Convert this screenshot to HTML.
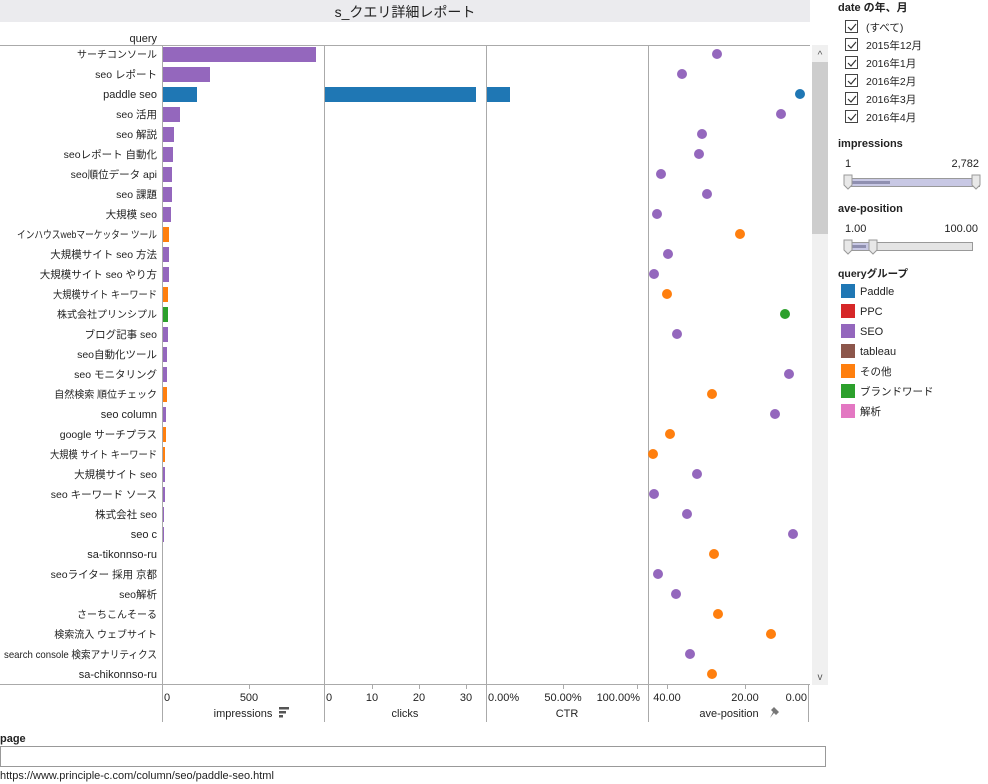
<!DOCTYPE html>
<html><head><meta charset="utf-8"><style>
body{margin:0;width:988px;height:784px;background:#fff;overflow:hidden;font-family:"Liberation Sans","Noto Sans CJK JP",sans-serif;}
svg text{font-family:"Liberation Sans","Noto Sans CJK JP",sans-serif;}
</style></head><body>
<svg width="988" height="784" xmlns="http://www.w3.org/2000/svg" style="position:absolute;left:0;top:0">
<rect x="0" y="0" width="810" height="22" fill="#ebebee"/>
<text x="405" y="17" font-size="14" text-anchor="middle" fill="#222">s_クエリ詳細レポート</text>
<text x="157" y="42" font-size="11" text-anchor="end" fill="#222">query</text>
<line x1="0" y1="45.5" x2="810" y2="45.5" stroke="#aaa"/>
<line x1="0" y1="684.5" x2="810" y2="684.5" stroke="#aaa"/>
<g stroke="#aaa">
<line x1="162.5" y1="45" x2="162.5" y2="722"/>
<line x1="324.5" y1="45" x2="324.5" y2="722"/>
<line x1="486.5" y1="45" x2="486.5" y2="722"/>
<line x1="648.5" y1="45" x2="648.5" y2="722"/>
<line x1="808.5" y1="684" x2="808.5" y2="722"/>
<line x1="249.5" y1="684" x2="249.5" y2="689"/>
<line x1="372.5" y1="684" x2="372.5" y2="689"/>
<line x1="419.5" y1="684" x2="419.5" y2="689"/>
<line x1="466.5" y1="684" x2="466.5" y2="689"/>
<line x1="563.5" y1="684" x2="563.5" y2="689"/>
<line x1="637.5" y1="684" x2="637.5" y2="689"/>
<line x1="667.5" y1="684" x2="667.5" y2="689"/>
<line x1="745.5" y1="684" x2="745.5" y2="689"/>
</g>
<g font-size="10.5" fill="#222" text-anchor="end">
<text x="157" y="58" font-size="10">サーチコンソール</text>
<text x="157" y="78">seo レポート</text>
<text x="157" y="98" font-size="11">paddle seo</text>
<text x="157" y="118">seo 活用</text>
<text x="157" y="138">seo 解説</text>
<text x="157" y="158">seoレポート 自動化</text>
<text x="157" y="178">seo順位データ api</text>
<text x="157" y="198">seo 課題</text>
<text x="157" y="218">大規模 seo</text>
<text x="157" y="238" textLength="140" lengthAdjust="spacingAndGlyphs">インハウスwebマーケッター ツール</text>
<text x="157" y="258">大規模サイト seo 方法</text>
<text x="157" y="278">大規模サイト seo やり方</text>
<text x="157" y="298" textLength="104" lengthAdjust="spacingAndGlyphs">大規模サイト キーワード</text>
<text x="157" y="318" font-size="10">株式会社プリンシプル</text>
<text x="157" y="338">ブログ記事 seo</text>
<text x="157" y="358">seo自動化ツール</text>
<text x="157" y="378">seo モニタリング</text>
<text x="157" y="398" font-size="10">自然検索 順位チェック</text>
<text x="157" y="418" font-size="11">seo column</text>
<text x="157" y="438">google サーチプラス</text>
<text x="157" y="458" textLength="107" lengthAdjust="spacingAndGlyphs">大規模 サイト キーワード</text>
<text x="157" y="478">大規模サイト seo</text>
<text x="157" y="498">seo キーワード ソース</text>
<text x="157" y="518">株式会社 seo</text>
<text x="157" y="538" font-size="11">seo c</text>
<text x="157" y="558" font-size="11">sa-tikonnso-ru</text>
<text x="157" y="578">seoライター 採用 京都</text>
<text x="157" y="598">seo解析</text>
<text x="157" y="618" font-size="10">さーちこんそーる</text>
<text x="157" y="638" font-size="10">検索流入 ウェブサイト</text>
<text x="157" y="658" textLength="153" lengthAdjust="spacingAndGlyphs">search console 検索アナリティクス</text>
<text x="157" y="678" font-size="11">sa-chikonnso-ru</text>
</g>
<g>
<rect x="163" y="47" width="153" height="15" fill="#9467bd"/>
<rect x="163" y="67" width="47" height="15" fill="#9467bd"/>
<rect x="163" y="87" width="34" height="15" fill="#1f77b4"/>
<rect x="325" y="87" width="151" height="15" fill="#1f77b4"/>
<rect x="487" y="87" width="23" height="15" fill="#1f77b4"/>
<rect x="163" y="107" width="17" height="15" fill="#9467bd"/>
<rect x="163" y="127" width="11" height="15" fill="#9467bd"/>
<rect x="163" y="147" width="10" height="15" fill="#9467bd"/>
<rect x="163" y="167" width="9" height="15" fill="#9467bd"/>
<rect x="163" y="187" width="9" height="15" fill="#9467bd"/>
<rect x="163" y="207" width="8" height="15" fill="#9467bd"/>
<rect x="163" y="227" width="6" height="15" fill="#ff7f0e"/>
<rect x="163" y="247" width="6" height="15" fill="#9467bd"/>
<rect x="163" y="267" width="6" height="15" fill="#9467bd"/>
<rect x="163" y="287" width="5" height="15" fill="#ff7f0e"/>
<rect x="163" y="307" width="5" height="15" fill="#2ca02c"/>
<rect x="163" y="327" width="5" height="15" fill="#9467bd"/>
<rect x="163" y="347" width="4" height="15" fill="#9467bd"/>
<rect x="163" y="367" width="4" height="15" fill="#9467bd"/>
<rect x="163" y="387" width="4" height="15" fill="#ff7f0e"/>
<rect x="163" y="407" width="3" height="15" fill="#9467bd"/>
<rect x="163" y="427" width="3" height="15" fill="#ff7f0e"/>
<rect x="163" y="447" width="2" height="15" fill="#ff7f0e"/>
<rect x="163" y="467" width="2" height="15" fill="#9467bd"/>
<rect x="163" y="487" width="2" height="15" fill="#9467bd"/>
<rect x="163" y="507" width="1" height="15" fill="#9467bd"/>
<rect x="163" y="527" width="1" height="15" fill="#9467bd"/>
</g>
<g>
<circle cx="717" cy="54" r="5" fill="#9467bd"/>
<circle cx="682" cy="74" r="5" fill="#9467bd"/>
<circle cx="800" cy="94" r="5" fill="#1f77b4"/>
<circle cx="781" cy="114" r="5" fill="#9467bd"/>
<circle cx="702" cy="134" r="5" fill="#9467bd"/>
<circle cx="699" cy="154" r="5" fill="#9467bd"/>
<circle cx="661" cy="174" r="5" fill="#9467bd"/>
<circle cx="707" cy="194" r="5" fill="#9467bd"/>
<circle cx="657" cy="214" r="5" fill="#9467bd"/>
<circle cx="740" cy="234" r="5" fill="#ff7f0e"/>
<circle cx="668" cy="254" r="5" fill="#9467bd"/>
<circle cx="654" cy="274" r="5" fill="#9467bd"/>
<circle cx="667" cy="294" r="5" fill="#ff7f0e"/>
<circle cx="785" cy="314" r="5" fill="#2ca02c"/>
<circle cx="677" cy="334" r="5" fill="#9467bd"/>
<circle cx="789" cy="374" r="5" fill="#9467bd"/>
<circle cx="712" cy="394" r="5" fill="#ff7f0e"/>
<circle cx="775" cy="414" r="5" fill="#9467bd"/>
<circle cx="670" cy="434" r="5" fill="#ff7f0e"/>
<circle cx="653" cy="454" r="5" fill="#ff7f0e"/>
<circle cx="697" cy="474" r="5" fill="#9467bd"/>
<circle cx="654" cy="494" r="5" fill="#9467bd"/>
<circle cx="687" cy="514" r="5" fill="#9467bd"/>
<circle cx="793" cy="534" r="5" fill="#9467bd"/>
<circle cx="714" cy="554" r="5" fill="#ff7f0e"/>
<circle cx="658" cy="574" r="5" fill="#9467bd"/>
<circle cx="676" cy="594" r="5" fill="#9467bd"/>
<circle cx="718" cy="614" r="5" fill="#ff7f0e"/>
<circle cx="771" cy="634" r="5" fill="#ff7f0e"/>
<circle cx="690" cy="654" r="5" fill="#9467bd"/>
<circle cx="712" cy="674" r="5" fill="#ff7f0e"/>
</g>
<g font-size="11" fill="#222">
<text x="164" y="701">0</text>
<text x="249" y="701" text-anchor="middle">500</text>
<text x="326" y="701">0</text>
<text x="372" y="701" text-anchor="middle">10</text>
<text x="419" y="701" text-anchor="middle">20</text>
<text x="466" y="701" text-anchor="middle">30</text>
<text x="488" y="701">0.00%</text>
<text x="563" y="701" text-anchor="middle">50.00%</text>
<text x="640" y="701" text-anchor="end">100.00%</text>
<text x="667" y="701" text-anchor="middle">40.00</text>
<text x="745" y="701" text-anchor="middle">20.00</text>
<text x="807" y="701" text-anchor="end">0.00</text>
<text x="243" y="717" text-anchor="middle">impressions</text>
<text x="405" y="717" text-anchor="middle">clicks</text>
<text x="567" y="717" text-anchor="middle">CTR</text>
<text x="729" y="717" text-anchor="middle">ave-position</text>
</g>
<g fill="#555"><rect x="279" y="707" width="10" height="2.5"/><rect x="279" y="711" width="7" height="2.5"/><rect x="279" y="715" width="4" height="2.5"/></g>
<path d="M770 718 L774 713 L771 710 L774 707 L779 712 L776 715 L773 712 Z" fill="#777"/>
<rect x="812" y="45" width="16" height="640" fill="#f0f0f0"/>
<rect x="812" y="62" width="16" height="172" fill="#cdcdcd"/>
<text x="820" y="58" font-size="10" text-anchor="middle" fill="#555">^</text>
<text x="820" y="680" font-size="10" text-anchor="middle" fill="#555">v</text>
<text x="0" y="742" font-size="11" font-weight="bold" fill="#222">page</text>
<rect x="0.5" y="746.5" width="825" height="20" fill="#fff" stroke="#999"/>
<text x="0" y="779" font-size="11" fill="#222">https://www.principle-c.com/column/seo/paddle-seo.html</text>
<g font-size="11" fill="#222">
<text x="838" y="11" font-weight="bold">date の年、月</text>
<g fill="#fff" stroke="#444"><rect x="845.5" y="20.5" width="12" height="12"/><rect x="845.5" y="38.5" width="12" height="12"/><rect x="845.5" y="56.5" width="12" height="12"/><rect x="845.5" y="74.5" width="12" height="12"/><rect x="845.5" y="92.5" width="12" height="12"/><rect x="845.5" y="110.5" width="12" height="12"/></g>
<g fill="none" stroke="#333" stroke-width="1.2"><path d="M848 27l3 3 5-6"/><path d="M848 45l3 3 5-6"/><path d="M848 63l3 3 5-6"/><path d="M848 81l3 3 5-6"/><path d="M848 99l3 3 5-6"/><path d="M848 117l3 3 5-6"/></g>
<text x="866" y="31" font-size="10.5">(すべて)</text>
<text x="866" y="49" font-size="10.5">2015年12月</text>
<text x="866" y="67" font-size="10.5">2016年1月</text>
<text x="866" y="85" font-size="10.5">2016年2月</text>
<text x="866" y="103" font-size="10.5">2016年3月</text>
<text x="866" y="121" font-size="10.5">2016年4月</text>
<text x="838" y="147" font-weight="bold">impressions</text>
<text x="845" y="167">1</text>
<text x="979" y="167" text-anchor="end">2,782</text>
<rect x="845.5" y="178.5" width="134" height="8" fill="#c8c8e4" stroke="#999"/>
<rect x="851" y="181" width="39" height="3" fill="#8f8fb0"/>
<path d="M844 175h8v10l-4 4-4-4z" fill="#e8e8e8" stroke="#999"/>
<path d="M972 175h8v10l-4 4-4-4z" fill="#e8e8e8" stroke="#999"/>
<text x="838" y="212" font-weight="bold">ave-position</text>
<text x="845" y="232">1.00</text>
<text x="978" y="232" text-anchor="end">100.00</text>
<rect x="845.5" y="242.5" width="127" height="8" fill="#e4e4e4" stroke="#999"/>
<rect x="845.5" y="242.5" width="24" height="8" fill="#c8c8e4" stroke="#999"/>
<rect x="851" y="245" width="15" height="3" fill="#8f8fb0"/>
<path d="M844 240h8v10l-4 4-4-4z" fill="#e8e8e8" stroke="#999"/>
<path d="M869 240h8v10l-4 4-4-4z" fill="#e8e8e8" stroke="#999"/>
<text x="838" y="277" font-weight="bold" font-size="10.5">queryグループ</text>
<rect x="841" y="284" width="14" height="14" fill="#1f77b4"/><text x="860" y="295">Paddle</text>
<rect x="841" y="304" width="14" height="14" fill="#d62728"/><text x="860" y="315">PPC</text>
<rect x="841" y="324" width="14" height="14" fill="#9467bd"/><text x="860" y="335">SEO</text>
<rect x="841" y="344" width="14" height="14" fill="#8c564b"/><text x="860" y="355">tableau</text>
<rect x="841" y="364" width="14" height="14" fill="#ff7f0e"/><text x="860" y="375" font-size="10.5">その他</text>
<rect x="841" y="384" width="14" height="14" fill="#2ca02c"/><text x="860" y="395" font-size="10.5">ブランドワード</text>
<rect x="841" y="404" width="14" height="14" fill="#e377c2"/><text x="860" y="415" font-size="10.5">解析</text>
</g>
</svg>
</body></html>
